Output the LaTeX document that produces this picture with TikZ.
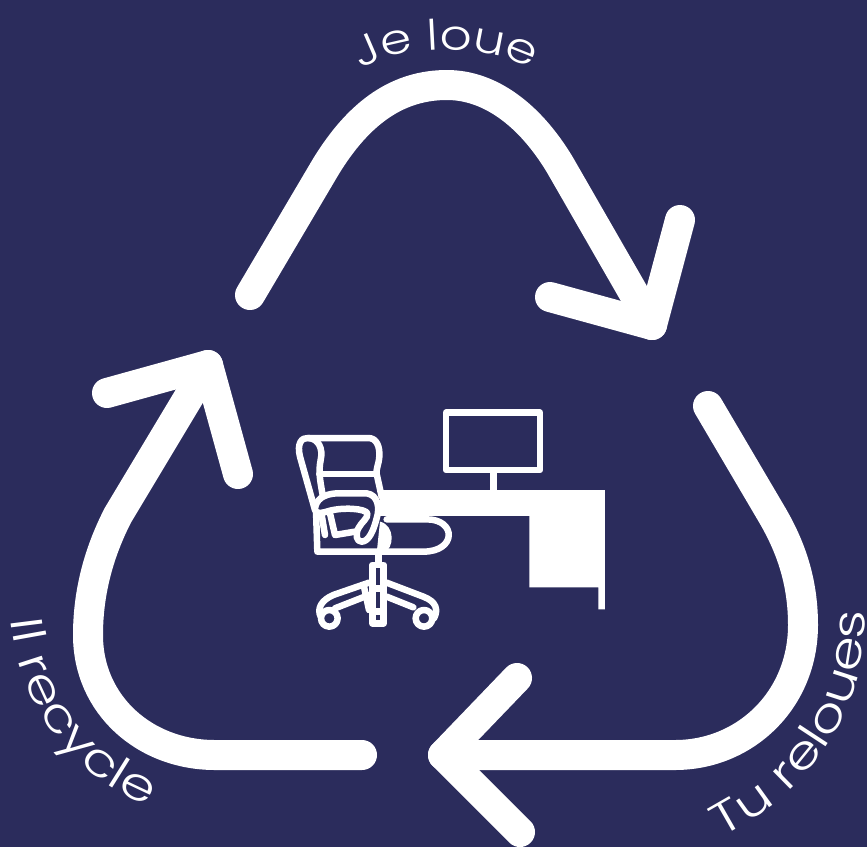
\documentclass[tikz,border=0pt]{standalone}
\usepackage{fontspec}
\usetikzlibrary{decorations.text}
\newfontfamily\lab[FakeStretch=1.2]{Poppins Light}
\newfontfamily\labw[FakeStretch=1.25]{Poppins Light}
\definecolor{bgc}{HTML}{2B2C5C}
\tikzset{
  ring/.style={draw=white,line width=30pt,line cap=round,line join=round},
  ico/.style={draw=white,line width=6.5pt,line join=round,line cap=round},
  curved label/.style={decorate,decoration={text along path,text align=center,
    text={|\lab\fontsize{42pt}{42pt}\selectfont\color{white}|#1}}},
  curved wide label/.style={decorate,decoration={text along path,text align=center,
    text={|\labw\fontsize{45pt}{45pt}\selectfont\color{white}|#1}}}
}
\begin{document}
\begin{tikzpicture}[x=1pt,y=-1pt]
\useasboundingbox (0,0) rectangle (867,847);
\fill[bgc] (0,0) rectangle (867,847);
% arrows
\draw[ring] (250,295) -- (325,168) .. controls (360,110) and (400,85) .. (447,85) .. controls (490,85) and (530,115) .. (560,165) -- (652,325);
\draw[ring] (550,297) -- (652,325) -- (680,220);
\draw[ring] (708,406) -- (771,513) .. controls (790,545) and (803,580) .. (803,625) .. controls (803,700) and (745,755) .. (675,755) -- (443,755);
\draw[ring] (517,678) -- (443,755) -- (520,832);
\draw[ring] (362,755) -- (215,755) .. controls (145,755) and (88,705) .. (88,635) .. controls (88,590) and (100,550) .. (118,515) -- (208,365);
\draw[ring] (107,393) -- (208,365) -- (238,474);
% labels
\path[curved label={Je loue}] (355,72) .. controls (400,42) and (490,42) .. (537,72);
\path[curved wide label={Tu reloues}] (712,842) .. controls (800,800) and (872,720) .. (864,600);
\path[curved wide label={Il recycle}] (10,612) .. controls (16,700) and (70,780) .. (155,808);
% desk icon
\begin{scope}[shift={(280,400)},x=0.3333pt,y=-0.3333pt]
\draw[ico,line cap=butt] (498,38) rectangle (780,210);
\draw[ico,line cap=butt] (640,220) -- (640,272);
\fill[white] (300,270) -- (975,270) -- (975,628) -- (955,628) -- (955,562) -- (748,562) -- (748,348) -- (300,348) -- cycle;
% chair back
\draw[ico] (105,330) -- (60,170) .. controls (50,130) and (65,112) .. (85,114) .. controls (115,116) and (130,145) .. (122,180) .. controls (115,215) and (120,240) .. (128,285);
\draw[ico] (85,114) -- (265,114) .. controls (290,114) and (300,140) .. (298,170) .. controls (296,195) and (288,205) .. (290,222) -- (305,290);
\draw[ico] (118,222) -- (290,222);
% seat
\fill[bgc] (120,340) rectangle (300,445);
\draw[ico] (108,330) -- (112,455) -- (430,455) .. controls (530,455) and (530,358) .. (440,358) -- (320,358);
\draw[ico] (125,345) -- (135,405);
% arm
\draw[ico,fill=bgc] (105,330) .. controls (105,300) and (130,282) .. (170,280) -- (260,280) .. controls (295,285) and (300,325) .. (290,355) .. controls (280,395) and (265,425) .. (245,425) .. controls (230,425) and (225,405) .. (235,385) .. controls (245,365) and (265,355) .. (262,340) .. controls (255,325) and (190,322) .. (150,332) .. controls (130,338) and (110,345) .. (105,330) -- cycle;
\draw[ico] (150,340) -- (165,405) -- (225,395);
% column
\fill[white] (300,365) .. controls (345,375) and (345,445) .. (310,460) -- (290,460) -- cycle;
\draw[ico,line cap=butt] (296,455) -- (296,495);
\draw[ico,line cap=butt] (277,495) rectangle (311,670);
\draw[ico,line cap=butt] (277,565) -- (311,565);
\draw[ico,line cap=butt] (277,635) -- (311,635);
% base
\draw[ico] (267,548) -- (160,585) .. controls (125,600) and (110,625) .. (122,650);
\draw[ico] (267,585) -- (165,625);
\draw[ico] (252,560) -- (267,630);
\draw[ico] (320,548) -- (430,590) .. controls (470,605) and (475,630) .. (462,655);
\draw[ico] (320,590) -- (400,622);
\draw[ico] (148,655) circle (25);
\draw[ico] (432,655) circle (25);
\end{scope}
\end{tikzpicture}
\end{document}
